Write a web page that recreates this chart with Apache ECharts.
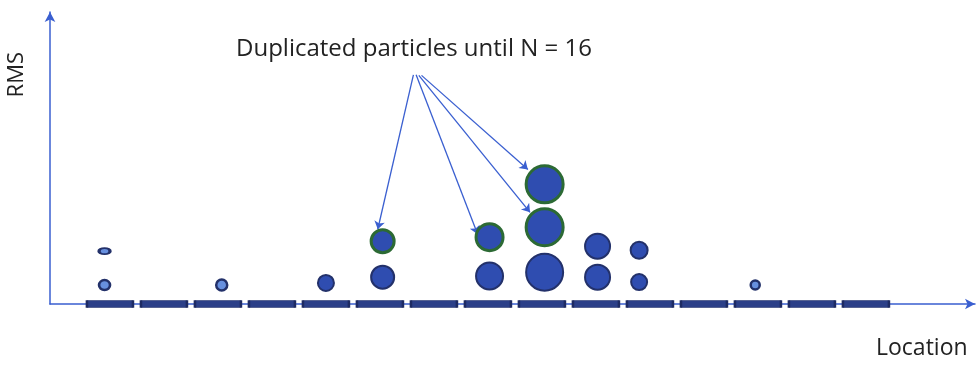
<!DOCTYPE html>
<html>
<head>
<meta charset="utf-8">
<script src="https://cdn.jsdelivr.net/npm/echarts@6/dist/echarts.min.js"></script>
<style>
  html, body { margin: 0; padding: 0; background: #fff; }
  #chart1 { width: 980px; height: 366px; }
</style>
</head>
<body>
<div id="chart1"></div>
<script>
// bins along the location axis (one flat bar per bin)
const binX = [0, 1, 2, 3, 4, 5, 6, 7, 8, 9, 10, 11, 12, 13, 14];

// original particles: location, rms, diameter
const partX    = [4.0, 5.05, 7.03, 8.05, 9.03, 9.03, 9.8, 9.8];
const partY    = [7.2, 9.2, 9.6, 10.9, 9.2, 19.8, 7.5, 18.4];
const partSize = [16, 23, 27, 37, 25, 25, 16, 17];

// small (light) particles
const lightX    = [-0.1, -0.1, 2.07, 11.95];
const lightY    = [6.5, 18.1, 6.5, 6.5];
const lightSize = [[11, 10], [11, 6], [11, 11], [9, 9]];

// duplicated particles (green outline)
const dupX    = [5.05, 7.03, 8.05, 8.05];
const dupY    = [21.5, 22.9, 26.3, 41.0];
const dupSize = [23, 27, 37, 37];

// arrows from label to the duplicated particles
const arrowFrom = [[5.62, 78.5], [5.67, 78.5], [5.72, 78.3], [5.77, 78.3]];
const arrowTo   = [[4.96, 25.6], [6.81, 23.9], [7.78, 31.4], [7.74, 46.1]];

const axisBlue = '#3a5fd0';
const fillBlue = '#2f4db0';
const edgeNavy = '#23316a';

const getOption = () => {
    const bars = binX.map(x => [x, 0]);
    const parts = partX.map((x, i) => ({ value: [x, partY[i]], symbolSize: partSize[i] }));
    const lights = lightX.map((x, i) => ({ value: [x, lightY[i]], symbolSize: lightSize[i] }));
    const dups = dupX.map((x, i) => ({ value: [x, dupY[i]], symbolSize: dupSize[i] }));
    const arrows = arrowFrom.map((p, i) => ({ coords: [p, arrowTo[i]] }));

    return {
        animation: false,
        grid: { left: 50, right: 5, top: 12, bottom: 62 },
        xAxis: {
            type: 'value',
            min: -1.11,
            max: 16.02,
            axisLine: {
                show: true,
                onZero: false,
                lineStyle: { color: axisBlue, width: 1.5 },
                symbol: ['none', 'arrow'],
                symbolSize: [8, 10]
            },
            axisTick: { show: false },
            axisLabel: { show: false },
            splitLine: { show: false }
        },
        yAxis: {
            type: 'value',
            min: 0,
            max: 100,
            axisLine: {
                show: true,
                onZero: false,
                lineStyle: { color: axisBlue, width: 1.5 },
                symbol: ['none', 'arrow'],
                symbolSize: [8, 10]
            },
            axisTick: { show: false },
            axisLabel: { show: false },
            splitLine: { show: false }
        },
        graphic: [
            {
                type: 'text', left: 236, top: 37,
                style: { text: 'Duplicated particles until N = 16', fill: '#222', font: '24px "Open Sans", sans-serif' }
            },
            {
                type: 'text', left: 6, top: 52,
                style: { text: 'RMS', fill: '#222', font: '22px "Open Sans", sans-serif' },
                rotation: Math.PI / 2, originX: 0, originY: 0
            },
            {
                type: 'text', left: 876, top: 337,
                style: { text: 'Location', fill: '#222', font: '23px "Open Sans", sans-serif' }
            }
        ],
        series: [
            {
                type: 'scatter',
                data: bars,
                symbol: 'rect',
                symbolSize: [46, 7],
                itemStyle: { color: '#2b3f88', borderColor: '#1d2a62', borderWidth: 1, borderRadius: 2, opacity: 1 },
                z: 3
            },
            {
                type: 'lines',
                coordinateSystem: 'cartesian2d',
                data: arrows,
                symbol: ['none', 'arrow'],
                symbolSize: 8,
                lineStyle: { color: axisBlue, width: 1.3, opacity: 1 },
                z: 2
            },
            {
                type: 'scatter',
                data: parts,
                itemStyle: { color: fillBlue, borderColor: edgeNavy, borderWidth: 2, opacity: 1 },
                z: 4
            },
            {
                type: 'scatter',
                data: lights,
                itemStyle: { color: '#6790df', borderColor: edgeNavy, borderWidth: 2.5, opacity: 1 },
                z: 4
            },
            {
                type: 'scatter',
                data: dups,
                itemStyle: { color: fillBlue, borderColor: '#2c6a34', borderWidth: 3, opacity: 1 },
                z: 4
            }
        ]
    };
};

window.addEventListener('load', () => {
    const chart1 = echarts.init(document.getElementById('chart1'));
    chart1.setOption(getOption());
});
</script>
</body>
</html>
